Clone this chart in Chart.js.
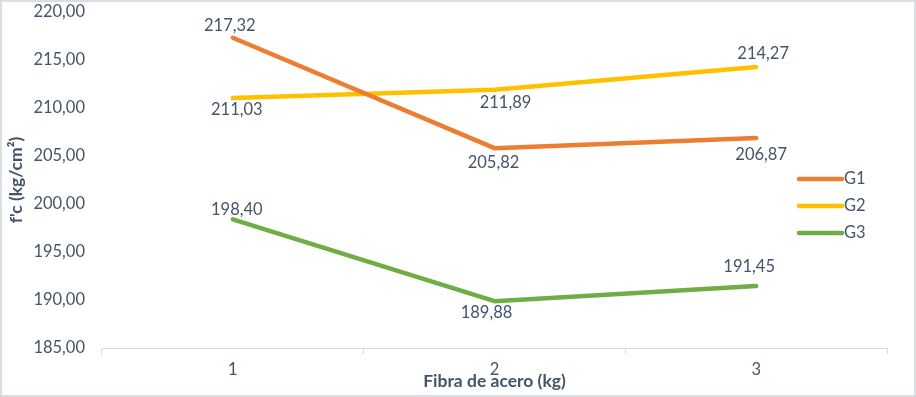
<!DOCTYPE html>
<html>
<head>
<meta charset="utf-8">
<script src="https://cdn.jsdelivr.net/npm/chart.js@4.4.1/dist/chart.umd.min.js"></script>
<style>
  html, body { margin: 0; padding: 0; background: #fff; }
  #wrap { width: 916px; height: 397px; }
</style>
</head>
<body>
<div id="wrap"><canvas id="chart" width="916" height="397"></canvas></div>
<script>
// data
const categories = ['1', '2', '3'];
const g1Values = [217.32, 205.82, 206.87];
const g2Values = [211.03, 211.89, 214.27];
const g3Values = [198.40, 189.88, 191.45];
const yMin = 185;
const yMax = 220;
const yStep = 5;

// label nudges (px) so the values sit where they are in the original
const g1LabelShift = [[-3, -12], [-1, 15], [5, 17]];
const g2LabelShift = [[4, 12], [11, 13], [7, -13]];
const g3LabelShift = [[4, -10], [-8, 12], [-7, -19]];

const textColor = '#44546a';
const fontFamily = 'Lato, "Open Sans", sans-serif';
const fmt = (v) => v.toFixed(2).replace('.', ',');

const makeSet = (label, data, color, shift) => ({
    label: label,
    data: data,
    borderColor: color,
    backgroundColor: color,
    borderWidth: 4.5,
    borderCapStyle: 'round',
    borderJoinStyle: 'round',
    pointRadius: 0,
    pointHoverRadius: 0,
    tension: 0,
    fill: false,
    labelShift: shift
});

const extrasPlugin = {
    id: 'extras',
    afterDatasetsDraw(chart) {
        const ctx = chart.ctx;
        ctx.save();
        ctx.font = `16.5px ${fontFamily}`;
        ctx.fillStyle = textColor;
        ctx.textAlign = 'center';
        ctx.textBaseline = 'middle';
        chart.data.datasets.forEach((ds, i) => {
            const meta = chart.getDatasetMeta(i);
            meta.data.forEach((pt, j) => {
                const s = ds.labelShift[j];
                ctx.fillText(fmt(ds.data[j]), pt.x + s[0], pt.y + s[1]);
            });
        });

        // legend overlapping the plot, like the original
        const lx = 799;
        const ly = 179;
        const gap = 27;
        chart.data.datasets.forEach((ds, i) => {
            const y = ly + i * gap;
            ctx.strokeStyle = ds.borderColor;
            ctx.lineWidth = 4.5;
            ctx.lineCap = 'round';
            ctx.beginPath();
            ctx.moveTo(lx, y);
            ctx.lineTo(lx + 43, y);
            ctx.stroke();
            ctx.textAlign = 'left';
            ctx.fillText(ds.label, lx + 45, y);
        });
        ctx.restore();
    },
    afterDraw(chart) {
        const ctx = chart.ctx;
        ctx.save();
        ctx.strokeStyle = '#dadde2';
        ctx.lineWidth = 2;
        ctx.strokeRect(1, 1, chart.width - 2, chart.height - 2);
        ctx.restore();
    }
};

new Chart(document.getElementById('chart'), {
    type: 'line',
    data: {
        labels: categories,
        datasets: [
            makeSet('G1', g1Values, '#ed7d31', g1LabelShift),
            makeSet('G2', g2Values, '#ffc000', g2LabelShift),
            makeSet('G3', g3Values, '#70ad47', g3LabelShift)
        ]
    },
    options: {
        responsive: false,
        animation: false,
        devicePixelRatio: 1,
        layout: { padding: { left: 2, top: 12, right: 29, bottom: 5 } },
        plugins: {
            legend: { display: false },
            tooltip: { enabled: false }
        },
        scales: {
            x: {
                offset: true,
                grid: { offset: true, drawOnChartArea: false, drawTicks: true, tickLength: 6, color: '#d9d9d9' },
                border: { display: true, color: '#d9d9d9', width: 1 },
                ticks: { color: textColor, font: { family: fontFamily, size: 16.5 }, padding: 6, maxRotation: 0 },
                title: {
                    display: true,
                    text: 'Fibra de acero (kg)',
                    color: textColor,
                    font: { family: fontFamily, size: 17.5, weight: 'bold' },
                    padding: 0
                },
                afterFit: (scale) => {
                    scale.height = 44;
                    scale.paddingLeft = 0;
                    scale.paddingRight = 0;
                }
            },
            y: {
                min: yMin,
                max: yMax,
                grid: { display: false, drawTicks: false },
                border: { display: false },
                ticks: {
                    stepSize: yStep,
                    color: textColor,
                    font: { family: fontFamily, size: 16.5 },
                    padding: 17,
                    callback: (v) => fmt(v)
                },
                title: {
                    display: true,
                    text: "f'c (kg/cm²)",
                    color: textColor,
                    font: { family: fontFamily, size: 17.5, weight: 'bold' },
                    padding: { top: 4, bottom: 0 }
                },
                afterFit: (scale) => {
                    scale.width = 100;
                    scale.paddingTop = 0;
                    scale.paddingBottom = 0;
                }
            }
        }
    },
    plugins: [extrasPlugin]
});
</script>
</body>
</html>
